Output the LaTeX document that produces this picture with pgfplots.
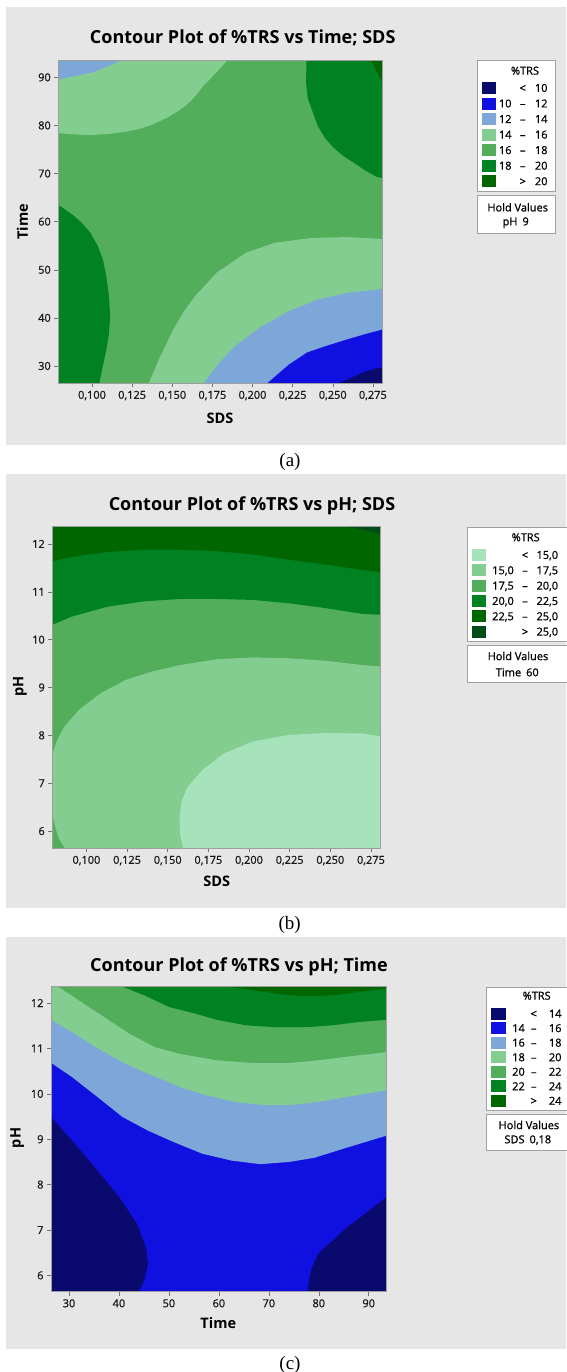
\documentclass[border=0pt]{standalone}
\usepackage{fontspec}
\setmainfont{Open Sans}
\newfontfamily\sbfam{Open Sans}[FakeBold=0.9]
\newfontfamily\seriffont{Liberation Serif}
\usepackage{pgfplots}
\pgfplotsset{compat=1.18}

\definecolor{navy}{RGB}{10,10,110}
\definecolor{blu}{RGB}{16,16,225}
\definecolor{lblue}{RGB}{125,167,217}
\definecolor{lgreen}{RGB}{130,205,143}
\definecolor{mgreen}{RGB}{82,174,90}
\definecolor{green2}{RGB}{0,130,35}
\definecolor{dgreen}{RGB}{0,102,0}
\definecolor{vlgreen}{RGB}{166,227,186}
\definecolor{vdgreen}{RGB}{0,77,26}
\definecolor{panel}{RGB}{230,230,230}
\definecolor{legborder}{RGB}{160,160,160}

\pgfplotsset{
  mtb/.style={
    scale only axis, axis on top, anchor=south west,
    tick align=outside, major tick length=4pt,
    xtick pos=left, ytick pos=left,
    axis line style={draw=black!38, line width=0.6pt},
    tick style={draw=black!55, line width=0.5pt},
    ticklabel style={font=\sbfam\fontsize{11}{13}\selectfont, text=black!90},
  },
  reg/.style={draw=none, fill=#1},
}

\newcommand{\legfont}{\sbfam\fontsize{11}{13}\selectfont}
\newcommand{\legrow}[5]{%
  \fill[#2] (\swL,{-#1pt+6pt}) rectangle (\swR,{-#1pt-6pt});
  \node[anchor=base east,font=\legfont,inner sep=0pt] at (\cA,{-#1pt-3.9pt}) {#3};
  \node[anchor=base,font=\legfont,inner sep=0pt] at (\cD,{-#1pt-3.9pt}) {#4};
  \node[anchor=base east,font=\legfont,inner sep=0pt] at (\cC,{-#1pt-3.9pt}) {#5};
}

\begin{document}
\begin{tikzpicture}
\path[use as bounding box] (0pt,0pt) rectangle (566pt,-1372pt);

% panels
\fill[panel] (6pt,-6.7pt) rectangle (566pt,-445pt);
\fill[panel] (6pt,-474pt) rectangle (566pt,-908.3pt);
\fill[panel] (6pt,-936.7pt) rectangle (566pt,-1349.3pt);

% ================= (a) =================
\begin{axis}[mtb, at={(58.3pt,-383.3pt)}, width=324.2pt, height=323.3pt,
  xmin=0.079, xmax=0.281, ymin=26.4, ymax=93.6,
  xtick={0.1,0.125,0.15,0.175,0.2,0.225,0.25,0.275},
  xticklabels={{0,100},{0,125},{0,150},{0,175},{0,200},{0,225},{0,250},{0,275}},
  ytick={30,40,50,60,70,80,90}, yticklabels={30,40,50,60,70,80,90}]
\addplot[reg=mgreen] coordinates {(0.07,20)(0.29,20)(0.29,100)(0.07,100)};
\addplot[reg=lgreen] coordinates {(0.07,100)(0.07,78.4)(0.079,78.4)(0.090,78.1)(0.099,78.0)(0.110,78.2)(0.121,78.7)(0.130,79.3)(0.137,80.1)(0.148,81.8)(0.155,83.3)(0.160,84.6)(0.165,86.3)(0.169,88.1)(0.174,89.8)(0.178,91.2)(0.1845,93.6)(0.186,94.2)(0.186,100)};
\addplot[reg=lblue] coordinates {(0.07,100)(0.07,89.6)(0.079,89.6)(0.090,90.3)(0.100,91.0)(0.110,92.3)(0.119,93.6)(0.121,94)(0.121,100)};
\addplot[reg=green2] coordinates {(0.2336,100)(0.2336,93.6)(0.2334,88.8)(0.2345,85.5)(0.2363,83.9)(0.2408,79.8)(0.2450,77.5)(0.2498,75.6)(0.2560,73.8)(0.2633,72.2)(0.2700,70.7)(0.2768,69.4)(0.2813,69.0)(0.29,68.5)(0.29,100)};
\addplot[reg=dgreen] coordinates {(0.2736,100)(0.2736,93.6)(0.277,91.5)(0.2813,88.7)(0.29,87)(0.29,100)};
\addplot[reg=green2] coordinates {(0.07,63.5)(0.079,63.5)(0.0876,61.5)(0.0935,59.8)(0.0989,57.7)(0.1035,55.0)(0.1068,52.1)(0.1090,48.5)(0.1104,45.0)(0.1113,40.4)(0.1105,36.5)(0.1090,33.5)(0.1045,26.4)(0.1040,20)(0.07,20)};
\addplot[reg=lgreen] coordinates {(0.1340,20)(0.1354,26.4)(0.1417,31.4)(0.1507,37.6)(0.1570,41.2)(0.1642,44.5)(0.1777,49.4)(0.1957,53.5)(0.2137,55.6)(0.2363,56.6)(0.2588,56.8)(0.2813,56.4)(0.29,56.3)(0.29,20)};
\addplot[reg=lblue] coordinates {(0.168,20)(0.1698,26.4)(0.1777,30.0)(0.1890,34.1)(0.2047,38.0)(0.2227,41.4)(0.2408,43.8)(0.2588,45.2)(0.2813,46.0)(0.29,46.1)(0.29,20)};
\addplot[reg=blu] coordinates {(0.2085,20)(0.2092,26.4)(0.2227,30.3)(0.2340,32.8)(0.2453,34.1)(0.2588,35.5)(0.2700,36.6)(0.2813,37.6)(0.29,38)(0.29,20)};
\addplot[reg=navy] coordinates {(0.2530,20)(0.2535,26.4)(0.262,27.6)(0.270,28.8)(0.277,29.5)(0.2813,29.7)(0.29,29.8)(0.29,20)};
\end{axis}

\node[anchor=base,font=\bfseries\fontsize{18}{21}\selectfont] at (242.7pt,-43.3pt) {Contour Plot of \%TRS vs Time; SDS};
\node[font=\bfseries\fontsize{14.5}{17}\selectfont] at (220pt,-418pt) {SDS};
\node[rotate=90,font=\bfseries\fontsize{14.5}{17}\selectfont] at (22.4pt,-221.7pt) {Time};
\node[font=\seriffont\fontsize{19}{22}\selectfont] at (290pt,-461.7pt) {(a)};

% legend (a)
\draw[legborder, fill=white, line width=0.8pt] (477.7pt,-60.7pt) rectangle (555.7pt,-191pt);
\node[font=\legfont] at (525pt,-70.7pt) {\%TRS};
\def\swL{482pt}\def\swR{495.7pt}\def\cA{511.7pt}\def\cD{522.7pt}\def\cC{547.7pt}
\legrow{88}{navy}{}{<}{10}
\legrow{103.55}{blu}{10}{–}{12}
\legrow{119.1}{lblue}{12}{–}{14}
\legrow{134.65}{lgreen}{14}{–}{16}
\legrow{150.2}{mgreen}{16}{–}{18}
\legrow{165.75}{green2}{18}{–}{20}
\legrow{181.3}{dgreen}{}{>}{20}
\draw[legborder, fill=white, line width=0.8pt] (477.7pt,-195.7pt) rectangle (555.7pt,-233.3pt);
\node[font=\legfont] at (517.7pt,-207.3pt) {Hold Values};
\node[font=\legfont] at (515.7pt,-222.7pt) {pH\hspace{5pt}9};

% ================= (b) =================
\begin{axis}[mtb, at={(52.3pt,-848.3pt)}, width=328.4pt, height=321.6pt,
  xmin=0.079, xmax=0.281, ymin=5.64, ymax=12.36,
  xtick={0.1,0.125,0.15,0.175,0.2,0.225,0.25,0.275},
  xticklabels={{0,100},{0,125},{0,150},{0,175},{0,200},{0,225},{0,250},{0,275}},
  ytick={6,7,8,9,10,11,12}, yticklabels={6,7,8,9,10,11,12}]
\addplot[reg=mgreen] coordinates {(0.07,5)(0.29,5)(0.29,13)(0.07,13)};
\addplot[reg=green2] coordinates {(0.07,13)(0.07,10.31)(0.079,10.31)(0.0908,10.48)(0.1131,10.69)(0.1354,10.80)(0.1577,10.85)(0.1800,10.85)(0.2023,10.83)(0.2246,10.76)(0.2469,10.66)(0.2692,10.54)(0.281,10.52)(0.29,10.5)(0.29,13)};
\addplot[reg=dgreen] coordinates {(0.07,13)(0.07,11.64)(0.079,11.64)(0.0930,11.74)(0.1131,11.83)(0.1354,11.88)(0.1577,11.88)(0.1800,11.85)(0.2023,11.78)(0.2246,11.67)(0.2469,11.57)(0.2692,11.46)(0.281,11.41)(0.29,11.37)(0.29,13)};
\addplot[reg=vdgreen] coordinates {(0.257,13)(0.257,12.37)(0.27,12.30)(0.281,12.2)(0.29,12.15)(0.29,13)};
\addplot[reg=lgreen] coordinates {(0.07,7.59)(0.079,7.59)(0.0819,7.90)(0.0864,8.18)(0.0953,8.53)(0.1087,8.88)(0.1243,9.16)(0.1399,9.33)(0.1577,9.47)(0.1800,9.59)(0.2023,9.63)(0.2246,9.61)(0.2469,9.56)(0.2692,9.47)(0.281,9.44)(0.29,9.42)(0.29,5)(0.07,5)};
\addplot[reg=mgreen] coordinates {(0.07,6.36)(0.079,6.36)(0.0808,6.08)(0.0830,5.84)(0.0864,5.65)(0.087,5)(0.07,5)};
\addplot[reg=vlgreen] coordinates {(0.1595,5)(0.1595,5.65)(0.1575,5.95)(0.1573,6.29)(0.1585,6.62)(0.1622,6.92)(0.1711,7.27)(0.1845,7.62)(0.2023,7.87)(0.2246,8.01)(0.2469,8.05)(0.2692,8.04)(0.281,7.98)(0.29,7.95)(0.29,5)};
\end{axis}

\node[anchor=base,font=\bfseries\fontsize{18}{21}\selectfont] at (252pt,-510.7pt) {Contour Plot of \%TRS vs pH; SDS};
\node[font=\bfseries\fontsize{14.5}{17}\selectfont] at (216.7pt,-881.7pt) {SDS};
\node[rotate=90,font=\bfseries\fontsize{14.5}{17}\selectfont] at (19.9pt,-686.7pt) {pH};
\node[font=\seriffont\fontsize{19}{22}\selectfont] at (289.7pt,-925pt) {(b)};

% legend (b)
\draw[legborder, fill=white, line width=0.8pt] (467.3pt,-527.7pt) rectangle (570pt,-641.7pt);
\node[font=\legfont] at (525.7pt,-537.3pt) {\%TRS};
\def\swL{472pt}\def\swR{485.7pt}\def\cA{514pt}\def\cD{525pt}\def\cC{558.3pt}
\legrow{555}{vlgreen}{}{<}{15,0}
\legrow{570.3}{lgreen}{15,0}{–}{17,5}
\legrow{585.7}{mgreen}{17,5}{–}{20,0}
\legrow{601}{green2}{20,0}{–}{22,5}
\legrow{616.3}{dgreen}{22,5}{–}{25,0}
\legrow{631.7}{vdgreen}{}{>}{25,0}
\draw[legborder, fill=white, line width=0.8pt] (467.3pt,-645.7pt) rectangle (570pt,-682.7pt);
\node[font=\legfont] at (518pt,-656pt) {Hold Values};
\node[font=\legfont] at (517.3pt,-672.3pt) {Time\hspace{5pt}60};

% ================= (c) =================
\begin{axis}[mtb, at={(51pt,-1291.7pt)}, width=335.7pt, height=305pt,
  xmin=26.4, xmax=93.6, ymin=5.64, ymax=12.36,
  xtick={30,40,50,60,70,80,90}, xticklabels={30,40,50,60,70,80,90},
  ytick={6,7,8,9,10,11,12}, yticklabels={6,7,8,9,10,11,12}]
\addplot[reg=blu] coordinates {(20,5)(100,5)(100,14)(20,14)};
\addplot[reg=lblue] coordinates {(20,14)(20,10.68)(26.45,10.68)(30.6,10.37)(35.7,9.93)(40.7,9.49)(45.8,9.19)(50.9,8.94)(56.7,8.68)(62.5,8.53)(68.3,8.45)(74.1,8.50)(79.1,8.59)(84.9,8.79)(93.6,9.08)(100,9.3)(100,14)};
\addplot[reg=lgreen] coordinates {(20,14)(20,11.63)(26.45,11.63)(30.6,11.36)(36.4,10.96)(41.4,10.66)(46.5,10.41)(52.3,10.15)(56.7,9.99)(63.2,9.82)(69.0,9.75)(74.1,9.75)(79.9,9.82)(85.7,9.93)(93.6,10.08)(100,10.2)(100,14)};
\addplot[reg=mgreen] coordinates {(27.6,14)(27.6,12.38)(32.0,12.06)(37.1,11.69)(42.2,11.32)(47.2,11.03)(52.3,10.88)(59.6,10.74)(66.8,10.68)(74.1,10.68)(79.9,10.74)(85.7,10.82)(93.6,10.92)(100,11.0)(100,14)};
\addplot[reg=green2] coordinates {(40.5,14)(40.5,12.37)(45.1,12.17)(50.1,11.91)(55.2,11.77)(59.6,11.63)(65.4,11.51)(71.2,11.47)(77.7,11.47)(82.8,11.51)(87.8,11.58)(93.6,11.63)(100,11.66)(100,14)};
\addplot[reg=dgreen] coordinates {(61.5,14)(61.5,12.37)(66.8,12.28)(72.6,12.19)(77.7,12.15)(82.8,12.17)(87.8,12.24)(93.6,12.32)(100,12.35)(100,14)};
\addplot[reg=navy] coordinates {(20,5)(20,9.49)(26.45,9.49)(30.6,8.97)(35.7,8.31)(40.0,7.73)(43.6,7.14)(45.4,6.62)(45.8,6.26)(45.1,5.89)(44.0,5.65)(43.8,5)};
\addplot[reg=navy] coordinates {(77.6,5)(77.7,5.65)(78.4,6.11)(79.9,6.48)(82.8,6.77)(85.7,7.06)(89.3,7.36)(93.6,7.73)(100,8.2)(100,5)};
\end{axis}

\node[anchor=base,font=\bfseries\fontsize{18}{21}\selectfont] at (239pt,-971.7pt) {Contour Plot of \%TRS vs pH; Time};
\node[font=\bfseries\fontsize{14.5}{17}\selectfont] at (218.3pt,-1323.3pt) {Time};
\node[rotate=90,font=\bfseries\fontsize{14.5}{17}\selectfont] at (17.3pt,-1138pt) {pH};
\node[font=\seriffont\fontsize{19}{22}\selectfont] at (290pt,-1365pt) {(c)};

% legend (c)
\draw[legborder, fill=white, line width=0.8pt] (486pt,-987.7pt) rectangle (570pt,-1110pt);
\node[font=\legfont] at (536.7pt,-995.7pt) {\%TRS};
\def\swL{491pt}\def\swR{505.7pt}\def\cA{525pt}\def\cD{533.7pt}\def\cC{561.7pt}
\legrow{1013.7}{navy}{}{<}{14}
\legrow{1028.2}{blu}{14}{–}{16}
\legrow{1042.7}{lblue}{16}{–}{18}
\legrow{1057.3}{lgreen}{18}{–}{20}
\legrow{1071.8}{mgreen}{20}{–}{22}
\legrow{1086.3}{green2}{22}{–}{24}
\legrow{1100.8}{dgreen}{}{>}{24}
\draw[legborder, fill=white, line width=0.8pt] (486.6pt,-1114pt) rectangle (570pt,-1150pt);
\node[font=\legfont] at (528.9pt,-1125pt) {Hold Values};
\node[font=\legfont] at (527.8pt,-1140pt) {SDS\hspace{5pt}0,18};

\end{tikzpicture}
\end{document}
